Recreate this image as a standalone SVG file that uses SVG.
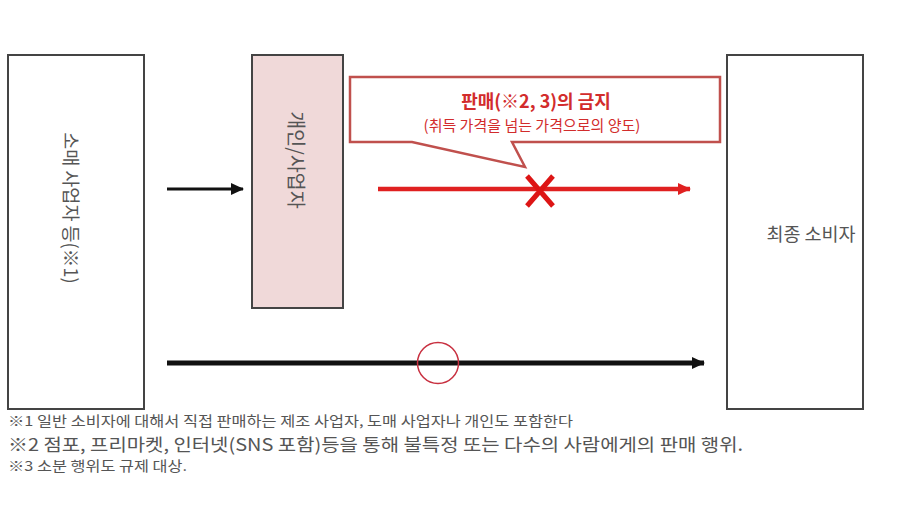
<svg xmlns="http://www.w3.org/2000/svg" width="900" height="506" viewBox="0 0 900 506">
<defs>
<style>
.box{fill:#fff;stroke:#444;stroke-width:2}
.pink{fill:#f0d9d9;stroke:#444;stroke-width:2}
.lbl{font-family:"Noto Sans CJK KR","Noto Sans",sans-serif;fill:#555}
.note{font-family:"Noto Sans CJK KR","Noto Sans",sans-serif;fill:#555}
.red{font-family:"Noto Sans CJK KR","Noto Sans",sans-serif;fill:#d22c2c;text-anchor:middle}
</style>
<marker id="ab" markerUnits="userSpaceOnUse" markerWidth="14" markerHeight="14" viewBox="0 0 14 14" refX="12" refY="7" orient="auto">
<path d="M0,1 L13,7 L0,13 Z" fill="#111"/>
</marker>
<marker id="ar" markerUnits="userSpaceOnUse" markerWidth="14" markerHeight="14" viewBox="0 0 14 14" refX="12" refY="7" orient="auto">
<path d="M0,1 L13,7 L0,13 Z" fill="#e02020"/>
</marker>
</defs>
<rect width="900" height="506" fill="#fff"/>
<g id="retailer">
<rect class="box" x="8" y="55" width="136" height="354"/>
<text class="lbl" transform="translate(72,208) rotate(90)" text-anchor="middle" dominant-baseline="central" style="font-size:18.5px">소매 사업자 등(※1)</text>
</g>
<g id="individual">
<rect class="pink" x="252" y="55" width="91" height="253"/>
<text class="lbl" transform="translate(297,160) rotate(90)" text-anchor="middle" dominant-baseline="central" style="font-size:19.5px">개인/사업자</text>
</g>
<g id="consumer">
<rect class="box" x="727" y="55" width="136" height="354"/>
<text class="lbl" x="811" y="233" text-anchor="middle" dominant-baseline="central" style="font-size:18.5px">최종 소비자</text>
</g>
<g id="callout">
<path d="M350,77 H720 V142 H512 L525,167 L412,142 H350 Z" fill="#fff" stroke="#c0504d" stroke-width="2.5" stroke-linejoin="miter"/>
<text class="red" x="536" y="108" style="font-size:18px;font-weight:bold">판매(※2, 3)의 금지</text>
<text class="red" x="532" y="131" style="font-size:15px">(취득 가격을 넘는 가격으로의 양도)</text>
</g>
<g id="connectors">
<line x1="167" y1="189" x2="243" y2="189" stroke="#111" stroke-width="3" marker-end="url(#ab)"/>
<line x1="378" y1="189" x2="690" y2="189" stroke="#e02020" stroke-width="4.5" marker-end="url(#ar)"/>
<line x1="167" y1="363" x2="704" y2="363" stroke="#111" stroke-width="5" marker-end="url(#ab)"/>
</g>
<g id="marks">
<path d="M527,176 L553,206 M553,176 L527,206" stroke="#dd1515" stroke-width="5"/>
<circle cx="438" cy="363" r="20.5" fill="none" stroke="#c83040" stroke-width="1.5"/>
</g>
<g id="footnotes">
<text class="note" x="8" y="426" style="font-size:13.5px" textLength="565" lengthAdjust="spacingAndGlyphs">※1 일반 소비자에 대해서 직접 판매하는 제조 사업자, 도매 사업자나 개인도 포함한다</text>
<text class="note" x="8" y="450.5" style="font-size:17.5px" textLength="735" lengthAdjust="spacingAndGlyphs">※2 점포, 프리마켓, 인터넷(SNS 포함)등을 통해 불특정 또는 다수의 사람에게의 판매 행위.</text>
<text class="note" x="8" y="471" style="font-size:13.5px" textLength="179" lengthAdjust="spacingAndGlyphs">※3 소분 행위도 규제 대상.</text>
</g>
</svg>
